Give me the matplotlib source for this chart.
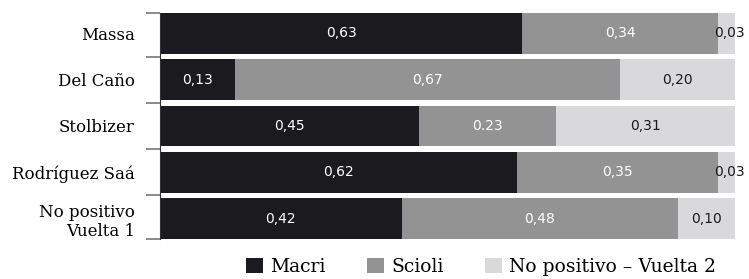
import numpy as np
import matplotlib.pyplot as plt

candidates = ['Massa', 'Del Caño', 'Stolbizer', 'Rodríguez Saá', 'No positivo\nVuelta 1']
series = ['Macri', 'Scioli', 'No positivo – Vuelta 2']
macri = [0.63, 0.13, 0.45, 0.62, 0.42]
scioli = [0.34, 0.67, 0.238, 0.35, 0.48]
no_positivo = [0.03, 0.20, 0.312, 0.03, 0.10]
# etiquetas tal como aparecen (una usa punto)
label_macri = ['0,63', '0,13', '0,45', '0,62', '0,42']
label_scioli = ['0,34', '0,67', '0.23', '0,35', '0,48']
label_nopos = ['0,03', '0,20', '0,31', '0,03', '0,10']

colors = ['#1b1a1e', '#939394', '#d9d9db']
text_colors = ['white', 'white', '#1b1a1e']

plt.rcParams['font.family'] = ['DejaVu Serif']

fig = plt.figure(figsize=(7.49, 2.79), dpi=100)
ax = fig.add_axes([160 / 749, 1 - 239 / 279, 575 / 749, 226 / 279])

y = np.arange(len(candidates))
left = np.zeros(len(candidates))
for vals, labs, col, tcol, name in zip([macri, scioli, no_positivo],
                                       [label_macri, label_scioli, label_nopos],
                                       colors, text_colors, series):
    ax.barh(y, vals, left=left, height=0.88, color=col, label=name)
    for i, (v, lab) in enumerate(zip(vals, labs)):
        # la etiqueta pequeña se corre un poco a la derecha
        xpos = left[i] + v / 2 + (0.006 if v < 0.05 else 0)
        ax.text(xpos, y[i], lab, ha='center', va='center',
                color=tcol, fontsize=10, family='DejaVu Sans')
    left = left + np.array(vals)

ax.set_xlim(0, 1.0)
ax.set_ylim(len(candidates) - 1 + 0.44, -0.44)
ax.set_yticks(y)
ax.set_yticklabels(candidates, fontsize=12)
ax.tick_params(axis='y', length=0, pad=18)
ax.set_yticks([-0.44, 0.5, 1.5, 2.5, 3.5, 4.44], minor=True)
ax.tick_params(axis='y', which='minor', length=10, color='#777777', width=1.2)
ax.set_xticks([])
for s in ['top', 'right', 'bottom']:
    ax.spines[s].set_visible(False)
ax.spines['left'].set_color('#333333')

leg = fig.legend(loc='center', bbox_to_anchor=(481 / 749, 1 - 267 / 279), ncol=3,
                 frameon=False, fontsize=13.5, handlelength=0.9, handleheight=0.9,
                 handletextpad=0.4, columnspacing=2.2)

fig.savefig('out.png', dpi=100)
